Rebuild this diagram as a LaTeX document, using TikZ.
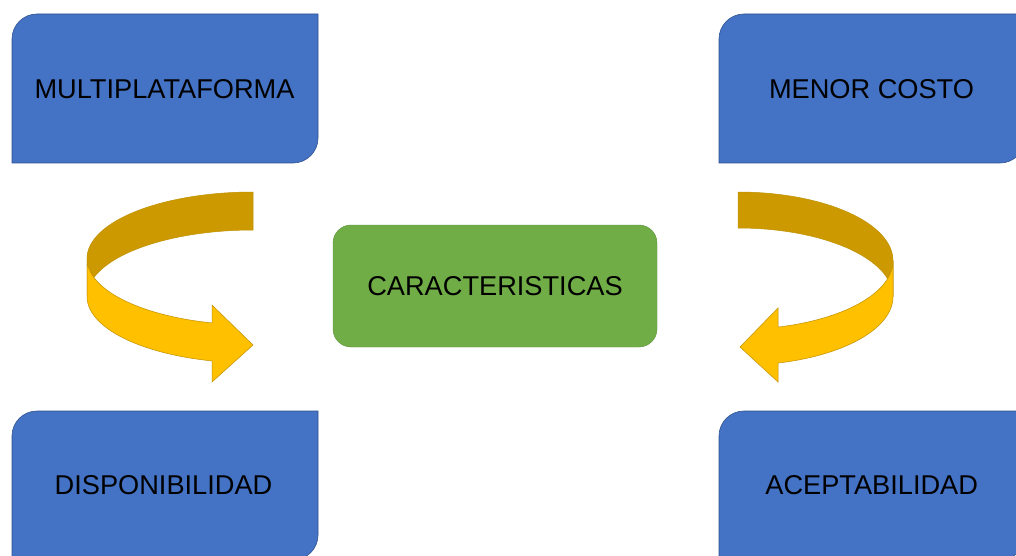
\documentclass[tikz,border=0pt]{standalone}
\usepackage{fontspec}
\setmainfont{Liberation Sans}
\definecolor{boxblue}{HTML}{4472C4}
\definecolor{boxedge}{HTML}{2F528F}
\definecolor{boxgreen}{HTML}{70AD47}
\definecolor{ribbonfront}{HTML}{FFC000}
\definecolor{ribbonback}{HTML}{CC9A00}
\definecolor{ribbonedge}{HTML}{BF9000}
\newcommand\halfroundbox[2]{\path[bluebox] (#1,#2+25) arc[start angle=180,end angle=270,radius=25] -- (#1+306,#2) -- (#1+306,#2+124) arc[start angle=0,end angle=90,radius=25] -- (#1,#2+149) -- cycle;}
\begin{document}
\begin{tikzpicture}[x=1pt,y=-1pt,
 bluebox/.style={fill=boxblue,draw=boxedge,line width=0.6pt},
 greenbox/.style={fill=boxgreen,draw=boxgreen!85!black,line width=0.4pt,rounded corners=18pt},
 label/.style={font=\fontsize{27.2}{31}\selectfont,text=black,inner sep=0pt},
 front/.style={fill=ribbonfront,draw=ribbonedge,line width=0.5pt,line join=miter},
 back/.style={fill=ribbonback,draw=ribbonedge,line width=0.5pt}]
\clip (0,0) rectangle (1016,556);
\fill[white] (0,0) rectangle (1016,556);
% blue boxes
\halfroundbox{12}{14}
\halfroundbox{719}{14}
\halfroundbox{12}{411}
\halfroundbox{719}{411}
% green box
\path[greenbox] (333,225) rectangle (657,347);
% left ribbon arrow
\path[back] plot[domain=270:180,samples=50] ({253+166*cos(\x)},{258.5+66.5*sin(\x)}) -- plot[domain=180:270,samples=50] ({253+166*cos(\x)},{296.5+66.5*sin(\x)}) -- cycle;
\path[front] plot[domain=180:104.3,samples=50] ({253+166*cos(\x)},{258.5+66.5*sin(\x)}) -- (212,305) -- (253,345) -- (212,382) -- plot[domain=104.3:180,samples=50] ({253+166*cos(\x)},{296.5+66.5*sin(\x)}) -- cycle;
% right ribbon arrow
\path[back] plot[domain=270:360,samples=50] ({738+155*cos(\x)},{260.7+68.7*sin(\x)}) -- plot[domain=360:270,samples=50] ({738+155*cos(\x)},{296.7+68.7*sin(\x)}) -- cycle;
\path[front] plot[domain=0:75,samples=50] ({738+155*cos(\x)},{260.7+68.7*sin(\x)}) -- (778,308) -- (740,347) -- (778,382) -- plot[domain=75:0,samples=50] ({738+155*cos(\x)},{296.7+68.7*sin(\x)}) -- cycle;
% labels
\node[label] (multi) at (164.5,88.7) {MULTIPLATAFORMA};
\node[label] (costo) at (871.5,88.8) {MENOR COSTO};
\node[label] (dispo) at (163.5,485.5) {DISPONIBILIDAD};
\node[label] (acep) at (871.7,485.5) {ACEPTABILIDAD};
\node[label] (carac) at (495,286.3) {CARACTERISTICAS};
\end{tikzpicture}
\end{document}
